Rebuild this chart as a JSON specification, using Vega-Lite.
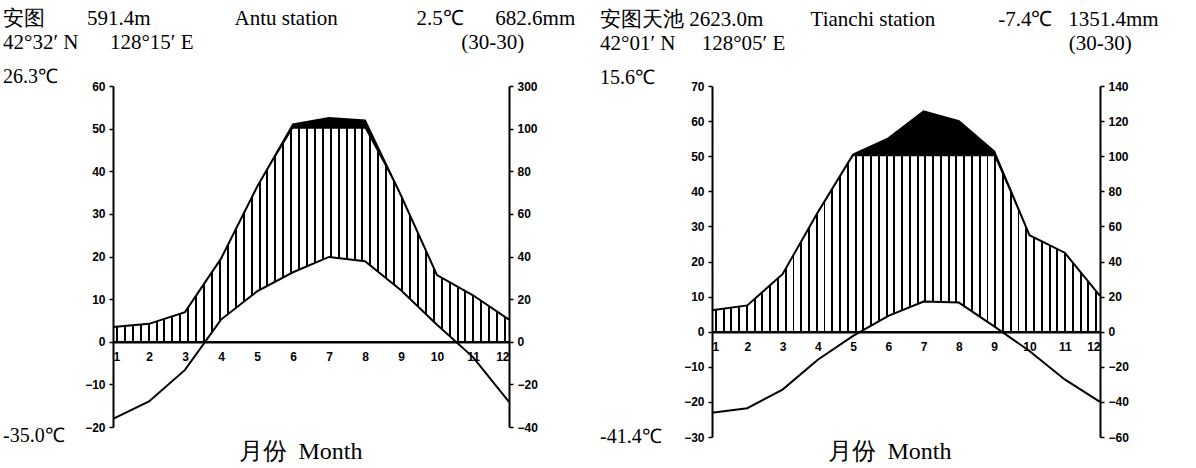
{
  "$schema": "https://vega.github.io/schema/vega-lite/v6.json",
  "background": "white",
  "padding": {"left": 3, "top": 8, "right": 0, "bottom": 0},
  "config": {"view": {"stroke": null}},
  "bounds": "flush",
  "spacing": 203,
  "hconcat": [
    {
      "width": 396,
      "height": 341,
      "title": {
        "text": ["安图\u2003\u2003591.4m\u2003\u2003\u2003\u2003Antu station\u2003\u2003\u2003\u2002\u00a02.5℃\u2003\u2002682.6mm", "42°32′ N\u2003\u2002128°15′ E\u2003\u2003\u2003\u2003\u2003\u2003\u2003\u2003\u2003\u2003\u2003\u2003\u2002\u00a0(30-30)"],
        "anchor": "start", "frame": "group", "dx": -110, "font": "Liberation Serif", "fontSize": 21, "fontWeight": "normal", "color": "#000", "lineHeight": 24, "offset": 14
      },
      "data": {"values": [
        {"m": 1, "T": -18.1, "P": 6.9},
        {"m": 2, "T": -14.0, "P": 8.4},
        {"m": 3, "T": -6.6, "P": 13.9},
        {"m": 4, "T": 5.2, "P": 39},
        {"m": 5, "T": 11.8, "P": 72.6},
        {"m": 6, "T": 16.3, "P": 120},
        {"m": 7, "T": 19.9, "P": 150},
        {"m": 8, "T": 18.9, "P": 138},
        {"m": 9, "T": 12.1, "P": 68.6},
        {"m": 10, "T": 4.0, "P": 31.3},
        {"m": 11, "T": -3.6, "P": 21.8},
        {"m": 12, "T": -14.1, "P": 10.4}
      ]},
      "encoding": {
        "x": {"field": "m", "type": "quantitative",
          "scale": {"domain": [1, 12], "nice": false, "zero": false},
          "axis": {"orient": "bottom", "offset": -85.25, "values": [1,2,3,4,5,6,7,8,9,10,11,12], "format": "d",
            "labelFont": "Liberation Sans", "labelFontWeight": "bold", "labelFontSize": 12, "labelColor": "#000",
            "labelPadding": 10, "labelFlush": true, "ticks": false, "domainColor": "#000", "domainWidth": 2.5, "grid": false, "zindex": 1,
            "title": "月份\u2002Month", "titleFont": "Liberation Serif", "titleFontSize": 24, "titleFontWeight": "normal", "titleColor": "#000",
            "titleX": 187, "titleY": 117, "titleBaseline": "alphabetic"}}
      },
      "layer": [
        {
          "mark": {"type": "area", "fill": "#000"},
          "encoding": {
            "y": {"field": "P", "type": "quantitative",
              "scale": {"domain": [-40, 100, 300], "range": [341, 42.625, 0], "nice": false, "zero": false},
              "axis": {"orient": "right", "values": [-40,-20,0,20,40,60,80,100,300], "title": null, "grid": false,
                "labelFont": "Liberation Sans", "labelFontWeight": "bold", "labelFontSize": 12, "labelColor": "#000",
                "tickColor": "#000", "tickSize": 4, "tickWidth": 1.5, "domainColor": "#000", "domainWidth": 2, "labelPadding": 4, "zindex": 1}},
            "y2": {"datum": 0}
          }
        },
        {
          "mark": {"type": "area", "fill": {"gradient": "linear", "x1": 0, "x2": 1, "y1": 0, "y2": 0, "stops": [
            {"offset":0.0075,"color":"#fff"},{"offset":0.0075,"color":"#000"},{"offset":0.0125,"color":"#000"},{"offset":0.0125,"color":"#fff"},
            {"offset":0.0275,"color":"#fff"},{"offset":0.0275,"color":"#000"},{"offset":0.0325,"color":"#000"},{"offset":0.0325,"color":"#fff"},
            {"offset":0.0475,"color":"#fff"},{"offset":0.0475,"color":"#000"},{"offset":0.0525,"color":"#000"},{"offset":0.0525,"color":"#fff"},
            {"offset":0.0675,"color":"#fff"},{"offset":0.0675,"color":"#000"},{"offset":0.0725,"color":"#000"},{"offset":0.0725,"color":"#fff"},
            {"offset":0.0875,"color":"#fff"},{"offset":0.0875,"color":"#000"},{"offset":0.0925,"color":"#000"},{"offset":0.0925,"color":"#fff"},
            {"offset":0.1075,"color":"#fff"},{"offset":0.1075,"color":"#000"},{"offset":0.1125,"color":"#000"},{"offset":0.1125,"color":"#fff"},
            {"offset":0.1275,"color":"#fff"},{"offset":0.1275,"color":"#000"},{"offset":0.1325,"color":"#000"},{"offset":0.1325,"color":"#fff"},
            {"offset":0.1475,"color":"#fff"},{"offset":0.1475,"color":"#000"},{"offset":0.1525,"color":"#000"},{"offset":0.1525,"color":"#fff"},
            {"offset":0.1675,"color":"#fff"},{"offset":0.1675,"color":"#000"},{"offset":0.1725,"color":"#000"},{"offset":0.1725,"color":"#fff"},
            {"offset":0.1875,"color":"#fff"},{"offset":0.1875,"color":"#000"},{"offset":0.1925,"color":"#000"},{"offset":0.1925,"color":"#fff"},
            {"offset":0.2075,"color":"#fff"},{"offset":0.2075,"color":"#000"},{"offset":0.2125,"color":"#000"},{"offset":0.2125,"color":"#fff"},
            {"offset":0.2275,"color":"#fff"},{"offset":0.2275,"color":"#000"},{"offset":0.2325,"color":"#000"},{"offset":0.2325,"color":"#fff"},
            {"offset":0.2475,"color":"#fff"},{"offset":0.2475,"color":"#000"},{"offset":0.2525,"color":"#000"},{"offset":0.2525,"color":"#fff"},
            {"offset":0.2675,"color":"#fff"},{"offset":0.2675,"color":"#000"},{"offset":0.2725,"color":"#000"},{"offset":0.2725,"color":"#fff"},
            {"offset":0.2875,"color":"#fff"},{"offset":0.2875,"color":"#000"},{"offset":0.2925,"color":"#000"},{"offset":0.2925,"color":"#fff"},
            {"offset":0.3075,"color":"#fff"},{"offset":0.3075,"color":"#000"},{"offset":0.3125,"color":"#000"},{"offset":0.3125,"color":"#fff"},
            {"offset":0.3275,"color":"#fff"},{"offset":0.3275,"color":"#000"},{"offset":0.3325,"color":"#000"},{"offset":0.3325,"color":"#fff"},
            {"offset":0.3475,"color":"#fff"},{"offset":0.3475,"color":"#000"},{"offset":0.3525,"color":"#000"},{"offset":0.3525,"color":"#fff"},
            {"offset":0.3675,"color":"#fff"},{"offset":0.3675,"color":"#000"},{"offset":0.3725,"color":"#000"},{"offset":0.3725,"color":"#fff"},
            {"offset":0.3875,"color":"#fff"},{"offset":0.3875,"color":"#000"},{"offset":0.3925,"color":"#000"},{"offset":0.3925,"color":"#fff"},
            {"offset":0.4075,"color":"#fff"},{"offset":0.4075,"color":"#000"},{"offset":0.4125,"color":"#000"},{"offset":0.4125,"color":"#fff"},
            {"offset":0.4275,"color":"#fff"},{"offset":0.4275,"color":"#000"},{"offset":0.4325,"color":"#000"},{"offset":0.4325,"color":"#fff"},
            {"offset":0.4475,"color":"#fff"},{"offset":0.4475,"color":"#000"},{"offset":0.4525,"color":"#000"},{"offset":0.4525,"color":"#fff"},
            {"offset":0.4675,"color":"#fff"},{"offset":0.4675,"color":"#000"},{"offset":0.4725,"color":"#000"},{"offset":0.4725,"color":"#fff"},
            {"offset":0.4875,"color":"#fff"},{"offset":0.4875,"color":"#000"},{"offset":0.4925,"color":"#000"},{"offset":0.4925,"color":"#fff"},
            {"offset":0.5075,"color":"#fff"},{"offset":0.5075,"color":"#000"},{"offset":0.5125,"color":"#000"},{"offset":0.5125,"color":"#fff"},
            {"offset":0.5275,"color":"#fff"},{"offset":0.5275,"color":"#000"},{"offset":0.5325,"color":"#000"},{"offset":0.5325,"color":"#fff"},
            {"offset":0.5475,"color":"#fff"},{"offset":0.5475,"color":"#000"},{"offset":0.5525,"color":"#000"},{"offset":0.5525,"color":"#fff"},
            {"offset":0.5675,"color":"#fff"},{"offset":0.5675,"color":"#000"},{"offset":0.5725,"color":"#000"},{"offset":0.5725,"color":"#fff"},
            {"offset":0.5875,"color":"#fff"},{"offset":0.5875,"color":"#000"},{"offset":0.5925,"color":"#000"},{"offset":0.5925,"color":"#fff"},
            {"offset":0.6075,"color":"#fff"},{"offset":0.6075,"color":"#000"},{"offset":0.6125,"color":"#000"},{"offset":0.6125,"color":"#fff"},
            {"offset":0.6275,"color":"#fff"},{"offset":0.6275,"color":"#000"},{"offset":0.6325,"color":"#000"},{"offset":0.6325,"color":"#fff"},
            {"offset":0.6475,"color":"#fff"},{"offset":0.6475,"color":"#000"},{"offset":0.6525,"color":"#000"},{"offset":0.6525,"color":"#fff"},
            {"offset":0.6675,"color":"#fff"},{"offset":0.6675,"color":"#000"},{"offset":0.6725,"color":"#000"},{"offset":0.6725,"color":"#fff"},
            {"offset":0.6875,"color":"#fff"},{"offset":0.6875,"color":"#000"},{"offset":0.6925,"color":"#000"},{"offset":0.6925,"color":"#fff"},
            {"offset":0.7075,"color":"#fff"},{"offset":0.7075,"color":"#000"},{"offset":0.7125,"color":"#000"},{"offset":0.7125,"color":"#fff"},
            {"offset":0.7275,"color":"#fff"},{"offset":0.7275,"color":"#000"},{"offset":0.7325,"color":"#000"},{"offset":0.7325,"color":"#fff"},
            {"offset":0.7475,"color":"#fff"},{"offset":0.7475,"color":"#000"},{"offset":0.7525,"color":"#000"},{"offset":0.7525,"color":"#fff"},
            {"offset":0.7675,"color":"#fff"},{"offset":0.7675,"color":"#000"},{"offset":0.7725,"color":"#000"},{"offset":0.7725,"color":"#fff"},
            {"offset":0.7875,"color":"#fff"},{"offset":0.7875,"color":"#000"},{"offset":0.7925,"color":"#000"},{"offset":0.7925,"color":"#fff"},
            {"offset":0.8075,"color":"#fff"},{"offset":0.8075,"color":"#000"},{"offset":0.8125,"color":"#000"},{"offset":0.8125,"color":"#fff"},
            {"offset":0.8275,"color":"#fff"},{"offset":0.8275,"color":"#000"},{"offset":0.8325,"color":"#000"},{"offset":0.8325,"color":"#fff"},
            {"offset":0.8475,"color":"#fff"},{"offset":0.8475,"color":"#000"},{"offset":0.8525,"color":"#000"},{"offset":0.8525,"color":"#fff"},
            {"offset":0.8675,"color":"#fff"},{"offset":0.8675,"color":"#000"},{"offset":0.8725,"color":"#000"},{"offset":0.8725,"color":"#fff"},
            {"offset":0.8875,"color":"#fff"},{"offset":0.8875,"color":"#000"},{"offset":0.8925,"color":"#000"},{"offset":0.8925,"color":"#fff"},
            {"offset":0.9075,"color":"#fff"},{"offset":0.9075,"color":"#000"},{"offset":0.9125,"color":"#000"},{"offset":0.9125,"color":"#fff"},
            {"offset":0.9275,"color":"#fff"},{"offset":0.9275,"color":"#000"},{"offset":0.9325,"color":"#000"},{"offset":0.9325,"color":"#fff"},
            {"offset":0.9475,"color":"#fff"},{"offset":0.9475,"color":"#000"},{"offset":0.9525,"color":"#000"},{"offset":0.9525,"color":"#fff"},
            {"offset":0.9675,"color":"#fff"},{"offset":0.9675,"color":"#000"},{"offset":0.9725,"color":"#000"},{"offset":0.9725,"color":"#fff"},
            {"offset":0.9875,"color":"#fff"},{"offset":0.9875,"color":"#000"},{"offset":0.9925,"color":"#000"},{"offset":0.9925,"color":"#fff"}
          ]}},
          "encoding": {
            "y": {"field": "P", "type": "quantitative",
              "scale": {"domain": [-40, 100], "range": [341, 42.625], "clamp": true, "nice": false, "zero": false}, "axis": null},
            "y2": {"datum": 0}
          }
        },
        {
          "mark": {"type": "area", "fill": "#fff"},
          "encoding": {
            "y": {"field": "T", "type": "quantitative",
              "scale": {"domain": [-20, 60], "nice": false, "zero": false},
              "axis": {"orient": "left", "values": [-20,-10,0,10,20,30,40,50,60], "title": null, "grid": false,
                "labelFont": "Liberation Sans", "labelFontWeight": "bold", "labelFontSize": 12, "labelColor": "#000",
                "tickColor": "#000", "tickSize": 4, "tickWidth": 1.5, "domainColor": "#000", "domainWidth": 2, "labelPadding": 4, "zindex": 1}},
            "y2": {"datum": 0}
          }
        },
        {
          "mark": {"type": "line", "color": "#000", "strokeWidth": 2},
          "encoding": {
            "y": {"field": "P", "type": "quantitative",
              "scale": {"domain": [-40, 100, 300], "range": [341, 42.625, 0], "nice": false, "zero": false}, "axis": null}
          }
        },
        {
          "mark": {"type": "line", "color": "#000", "strokeWidth": 2},
          "encoding": {
            "y": {"field": "T", "type": "quantitative",
              "scale": {"domain": [-20, 60], "nice": false, "zero": false}, "axis": null}
          }
        },
        {
          "data": {"values": [{"m": 1, "lab": "26.3℃", "t": 60}]},
          "mark": {"type": "text", "align": "left", "baseline": "middle", "dx": -110, "dy": -9, "font": "Liberation Serif", "fontSize": 20, "color": "#000"},
          "encoding": {
            "y": {"field": "t", "type": "quantitative", "scale": {"domain": [-20, 60], "nice": false, "zero": false}, "axis": null},
            "text": {"field": "lab", "type": "nominal"}
          }
        },
        {
          "data": {"values": [{"m": 1, "lab": "-35.0℃", "t": -20}]},
          "mark": {"type": "text", "align": "left", "baseline": "middle", "dx": -110, "dy": 9, "font": "Liberation Serif", "fontSize": 20, "color": "#000"},
          "encoding": {
            "y": {"field": "t", "type": "quantitative", "scale": {"domain": [-20, 60], "nice": false, "zero": false}, "axis": null},
            "text": {"field": "lab", "type": "nominal"}
          }
        }
      ],
      "resolve": {"scale": {"y": "independent"}}
    },
    {
      "width": 388,
      "height": 351,
      "title": {
        "text": ["安图天池\u00a02623.0m\u2003\u2003\u00a0Tianchi station\u2003\u2003\u2003-7.4℃\u2002\u00a01351.4mm", "42°01′ N\u2003\u00a0128°05′ E\u2003\u2003\u2003\u2003\u2003\u2003\u2003\u2003\u2003\u2003\u2003\u2003\u2003\u2002(30-30)"],
        "anchor": "start", "frame": "group", "dx": -112, "font": "Liberation Serif", "fontSize": 21, "fontWeight": "normal", "color": "#000", "lineHeight": 24, "offset": 14
      },
      "data": {"values": [
        {"m": 1, "T": -23.1, "P": 12.2},
        {"m": 2, "T": -21.8, "P": 15},
        {"m": 3, "T": -16.5, "P": 32.8},
        {"m": 4, "T": -8.0, "P": 68},
        {"m": 5, "T": -1.2, "P": 110},
        {"m": 6, "T": 4.5, "P": 202},
        {"m": 7, "T": 8.6, "P": 356},
        {"m": 8, "T": 8.3, "P": 300},
        {"m": 9, "T": 1.5, "P": 128},
        {"m": 10, "T": -5.5, "P": 55},
        {"m": 11, "T": -13.6, "P": 45},
        {"m": 12, "T": -20.0, "P": 20.4}
      ]},
      "encoding": {
        "x": {"field": "m", "type": "quantitative",
          "scale": {"domain": [1, 12], "nice": false, "zero": false},
          "axis": {"orient": "bottom", "offset": -105.3, "values": [1,2,3,4,5,6,7,8,9,10,11,12], "format": "d",
            "labelFont": "Liberation Sans", "labelFontWeight": "bold", "labelFontSize": 12, "labelColor": "#000",
            "labelPadding": 10, "labelFlush": true, "ticks": false, "domainColor": "#000", "domainWidth": 2.5, "grid": false, "zindex": 1,
            "title": "月份\u2002Month", "titleFont": "Liberation Serif", "titleFontSize": 24, "titleFontWeight": "normal", "titleColor": "#000",
            "titleX": 177, "titleY": 127, "titleBaseline": "alphabetic"}}
      },
      "layer": [
        {
          "mark": {"type": "area", "fill": "#000"},
          "encoding": {
            "y": {"field": "P", "type": "quantitative",
              "scale": {"domain": [-60, 100, 500], "range": [351, 70.2, 0], "nice": false, "zero": false},
              "axis": {"orient": "right", "values": [-60,-40,-20,0,20,40,60,80,100,300,500], "title": null, "grid": false,
                "labelExpr": "datum.value == 300 ? '120' : datum.value == 500 ? '140' : datum.label",
                "labelFont": "Liberation Sans", "labelFontWeight": "bold", "labelFontSize": 12, "labelColor": "#000",
                "tickColor": "#000", "tickSize": 4, "tickWidth": 1.5, "domainColor": "#000", "domainWidth": 2, "labelPadding": 4, "zindex": 1}},
            "y2": {"datum": 0}
          }
        },
        {
          "mark": {"type": "area", "fill": {"gradient": "linear", "x1": 0, "x2": 1, "y1": 0, "y2": 0, "stops": [
            {"offset":0.0075,"color":"#fff"},{"offset":0.0075,"color":"#000"},{"offset":0.0125,"color":"#000"},{"offset":0.0125,"color":"#fff"},
            {"offset":0.0275,"color":"#fff"},{"offset":0.0275,"color":"#000"},{"offset":0.0325,"color":"#000"},{"offset":0.0325,"color":"#fff"},
            {"offset":0.0475,"color":"#fff"},{"offset":0.0475,"color":"#000"},{"offset":0.0525,"color":"#000"},{"offset":0.0525,"color":"#fff"},
            {"offset":0.0675,"color":"#fff"},{"offset":0.0675,"color":"#000"},{"offset":0.0725,"color":"#000"},{"offset":0.0725,"color":"#fff"},
            {"offset":0.0875,"color":"#fff"},{"offset":0.0875,"color":"#000"},{"offset":0.0925,"color":"#000"},{"offset":0.0925,"color":"#fff"},
            {"offset":0.1075,"color":"#fff"},{"offset":0.1075,"color":"#000"},{"offset":0.1125,"color":"#000"},{"offset":0.1125,"color":"#fff"},
            {"offset":0.1275,"color":"#fff"},{"offset":0.1275,"color":"#000"},{"offset":0.1325,"color":"#000"},{"offset":0.1325,"color":"#fff"},
            {"offset":0.1475,"color":"#fff"},{"offset":0.1475,"color":"#000"},{"offset":0.1525,"color":"#000"},{"offset":0.1525,"color":"#fff"},
            {"offset":0.1675,"color":"#fff"},{"offset":0.1675,"color":"#000"},{"offset":0.1725,"color":"#000"},{"offset":0.1725,"color":"#fff"},
            {"offset":0.1875,"color":"#fff"},{"offset":0.1875,"color":"#000"},{"offset":0.1925,"color":"#000"},{"offset":0.1925,"color":"#fff"},
            {"offset":0.2075,"color":"#fff"},{"offset":0.2075,"color":"#000"},{"offset":0.2125,"color":"#000"},{"offset":0.2125,"color":"#fff"},
            {"offset":0.2275,"color":"#fff"},{"offset":0.2275,"color":"#000"},{"offset":0.2325,"color":"#000"},{"offset":0.2325,"color":"#fff"},
            {"offset":0.2475,"color":"#fff"},{"offset":0.2475,"color":"#000"},{"offset":0.2525,"color":"#000"},{"offset":0.2525,"color":"#fff"},
            {"offset":0.2675,"color":"#fff"},{"offset":0.2675,"color":"#000"},{"offset":0.2725,"color":"#000"},{"offset":0.2725,"color":"#fff"},
            {"offset":0.2875,"color":"#fff"},{"offset":0.2875,"color":"#000"},{"offset":0.2925,"color":"#000"},{"offset":0.2925,"color":"#fff"},
            {"offset":0.3075,"color":"#fff"},{"offset":0.3075,"color":"#000"},{"offset":0.3125,"color":"#000"},{"offset":0.3125,"color":"#fff"},
            {"offset":0.3275,"color":"#fff"},{"offset":0.3275,"color":"#000"},{"offset":0.3325,"color":"#000"},{"offset":0.3325,"color":"#fff"},
            {"offset":0.3475,"color":"#fff"},{"offset":0.3475,"color":"#000"},{"offset":0.3525,"color":"#000"},{"offset":0.3525,"color":"#fff"},
            {"offset":0.3675,"color":"#fff"},{"offset":0.3675,"color":"#000"},{"offset":0.3725,"color":"#000"},{"offset":0.3725,"color":"#fff"},
            {"offset":0.3875,"color":"#fff"},{"offset":0.3875,"color":"#000"},{"offset":0.3925,"color":"#000"},{"offset":0.3925,"color":"#fff"},
            {"offset":0.4075,"color":"#fff"},{"offset":0.4075,"color":"#000"},{"offset":0.4125,"color":"#000"},{"offset":0.4125,"color":"#fff"},
            {"offset":0.4275,"color":"#fff"},{"offset":0.4275,"color":"#000"},{"offset":0.4325,"color":"#000"},{"offset":0.4325,"color":"#fff"},
            {"offset":0.4475,"color":"#fff"},{"offset":0.4475,"color":"#000"},{"offset":0.4525,"color":"#000"},{"offset":0.4525,"color":"#fff"},
            {"offset":0.4675,"color":"#fff"},{"offset":0.4675,"color":"#000"},{"offset":0.4725,"color":"#000"},{"offset":0.4725,"color":"#fff"},
            {"offset":0.4875,"color":"#fff"},{"offset":0.4875,"color":"#000"},{"offset":0.4925,"color":"#000"},{"offset":0.4925,"color":"#fff"},
            {"offset":0.5075,"color":"#fff"},{"offset":0.5075,"color":"#000"},{"offset":0.5125,"color":"#000"},{"offset":0.5125,"color":"#fff"},
            {"offset":0.5275,"color":"#fff"},{"offset":0.5275,"color":"#000"},{"offset":0.5325,"color":"#000"},{"offset":0.5325,"color":"#fff"},
            {"offset":0.5475,"color":"#fff"},{"offset":0.5475,"color":"#000"},{"offset":0.5525,"color":"#000"},{"offset":0.5525,"color":"#fff"},
            {"offset":0.5675,"color":"#fff"},{"offset":0.5675,"color":"#000"},{"offset":0.5725,"color":"#000"},{"offset":0.5725,"color":"#fff"},
            {"offset":0.5875,"color":"#fff"},{"offset":0.5875,"color":"#000"},{"offset":0.5925,"color":"#000"},{"offset":0.5925,"color":"#fff"},
            {"offset":0.6075,"color":"#fff"},{"offset":0.6075,"color":"#000"},{"offset":0.6125,"color":"#000"},{"offset":0.6125,"color":"#fff"},
            {"offset":0.6275,"color":"#fff"},{"offset":0.6275,"color":"#000"},{"offset":0.6325,"color":"#000"},{"offset":0.6325,"color":"#fff"},
            {"offset":0.6475,"color":"#fff"},{"offset":0.6475,"color":"#000"},{"offset":0.6525,"color":"#000"},{"offset":0.6525,"color":"#fff"},
            {"offset":0.6675,"color":"#fff"},{"offset":0.6675,"color":"#000"},{"offset":0.6725,"color":"#000"},{"offset":0.6725,"color":"#fff"},
            {"offset":0.6875,"color":"#fff"},{"offset":0.6875,"color":"#000"},{"offset":0.6925,"color":"#000"},{"offset":0.6925,"color":"#fff"},
            {"offset":0.7075,"color":"#fff"},{"offset":0.7075,"color":"#000"},{"offset":0.7125,"color":"#000"},{"offset":0.7125,"color":"#fff"},
            {"offset":0.7275,"color":"#fff"},{"offset":0.7275,"color":"#000"},{"offset":0.7325,"color":"#000"},{"offset":0.7325,"color":"#fff"},
            {"offset":0.7475,"color":"#fff"},{"offset":0.7475,"color":"#000"},{"offset":0.7525,"color":"#000"},{"offset":0.7525,"color":"#fff"},
            {"offset":0.7675,"color":"#fff"},{"offset":0.7675,"color":"#000"},{"offset":0.7725,"color":"#000"},{"offset":0.7725,"color":"#fff"},
            {"offset":0.7875,"color":"#fff"},{"offset":0.7875,"color":"#000"},{"offset":0.7925,"color":"#000"},{"offset":0.7925,"color":"#fff"},
            {"offset":0.8075,"color":"#fff"},{"offset":0.8075,"color":"#000"},{"offset":0.8125,"color":"#000"},{"offset":0.8125,"color":"#fff"},
            {"offset":0.8275,"color":"#fff"},{"offset":0.8275,"color":"#000"},{"offset":0.8325,"color":"#000"},{"offset":0.8325,"color":"#fff"},
            {"offset":0.8475,"color":"#fff"},{"offset":0.8475,"color":"#000"},{"offset":0.8525,"color":"#000"},{"offset":0.8525,"color":"#fff"},
            {"offset":0.8675,"color":"#fff"},{"offset":0.8675,"color":"#000"},{"offset":0.8725,"color":"#000"},{"offset":0.8725,"color":"#fff"},
            {"offset":0.8875,"color":"#fff"},{"offset":0.8875,"color":"#000"},{"offset":0.8925,"color":"#000"},{"offset":0.8925,"color":"#fff"},
            {"offset":0.9075,"color":"#fff"},{"offset":0.9075,"color":"#000"},{"offset":0.9125,"color":"#000"},{"offset":0.9125,"color":"#fff"},
            {"offset":0.9275,"color":"#fff"},{"offset":0.9275,"color":"#000"},{"offset":0.9325,"color":"#000"},{"offset":0.9325,"color":"#fff"},
            {"offset":0.9475,"color":"#fff"},{"offset":0.9475,"color":"#000"},{"offset":0.9525,"color":"#000"},{"offset":0.9525,"color":"#fff"},
            {"offset":0.9675,"color":"#fff"},{"offset":0.9675,"color":"#000"},{"offset":0.9725,"color":"#000"},{"offset":0.9725,"color":"#fff"},
            {"offset":0.9875,"color":"#fff"},{"offset":0.9875,"color":"#000"},{"offset":0.9925,"color":"#000"},{"offset":0.9925,"color":"#fff"}
          ]}},
          "encoding": {
            "y": {"field": "P", "type": "quantitative",
              "scale": {"domain": [-60, 100], "range": [351, 70.2], "clamp": true, "nice": false, "zero": false}, "axis": null},
            "y2": {"datum": 0}
          }
        },
        {
          "mark": {"type": "area", "fill": "#fff"},
          "encoding": {
            "y": {"field": "T", "type": "quantitative",
              "scale": {"domain": [-30, 70], "nice": false, "zero": false},
              "axis": {"orient": "left", "values": [-30,-20,-10,0,10,20,30,40,50,60,70], "title": null, "grid": false,
                "labelFont": "Liberation Sans", "labelFontWeight": "bold", "labelFontSize": 12, "labelColor": "#000",
                "tickColor": "#000", "tickSize": 4, "tickWidth": 1.5, "domainColor": "#000", "domainWidth": 2, "labelPadding": 4, "zindex": 1}},
            "y2": {"datum": 0}
          }
        },
        {
          "mark": {"type": "line", "color": "#000", "strokeWidth": 2},
          "encoding": {
            "y": {"field": "P", "type": "quantitative",
              "scale": {"domain": [-60, 100, 500], "range": [351, 70.2, 0], "nice": false, "zero": false}, "axis": null}
          }
        },
        {
          "mark": {"type": "line", "color": "#000", "strokeWidth": 2},
          "encoding": {
            "y": {"field": "T", "type": "quantitative",
              "scale": {"domain": [-30, 70], "nice": false, "zero": false}, "axis": null}
          }
        },
        {
          "data": {"values": [{"m": 1, "lab": "15.6℃", "t": 70}]},
          "mark": {"type": "text", "align": "left", "baseline": "middle", "dx": -112, "dy": -8, "font": "Liberation Serif", "fontSize": 20, "color": "#000"},
          "encoding": {
            "y": {"field": "t", "type": "quantitative", "scale": {"domain": [-30, 70], "nice": false, "zero": false}, "axis": null},
            "text": {"field": "lab", "type": "nominal"}
          }
        },
        {
          "data": {"values": [{"m": 1, "lab": "-41.4℃", "t": -30}]},
          "mark": {"type": "text", "align": "left", "baseline": "middle", "dx": -112, "dy": 0, "font": "Liberation Serif", "fontSize": 20, "color": "#000"},
          "encoding": {
            "y": {"field": "t", "type": "quantitative", "scale": {"domain": [-30, 70], "nice": false, "zero": false}, "axis": null},
            "text": {"field": "lab", "type": "nominal"}
          }
        }
      ],
      "resolve": {"scale": {"y": "independent"}}
    }
  ]
}
